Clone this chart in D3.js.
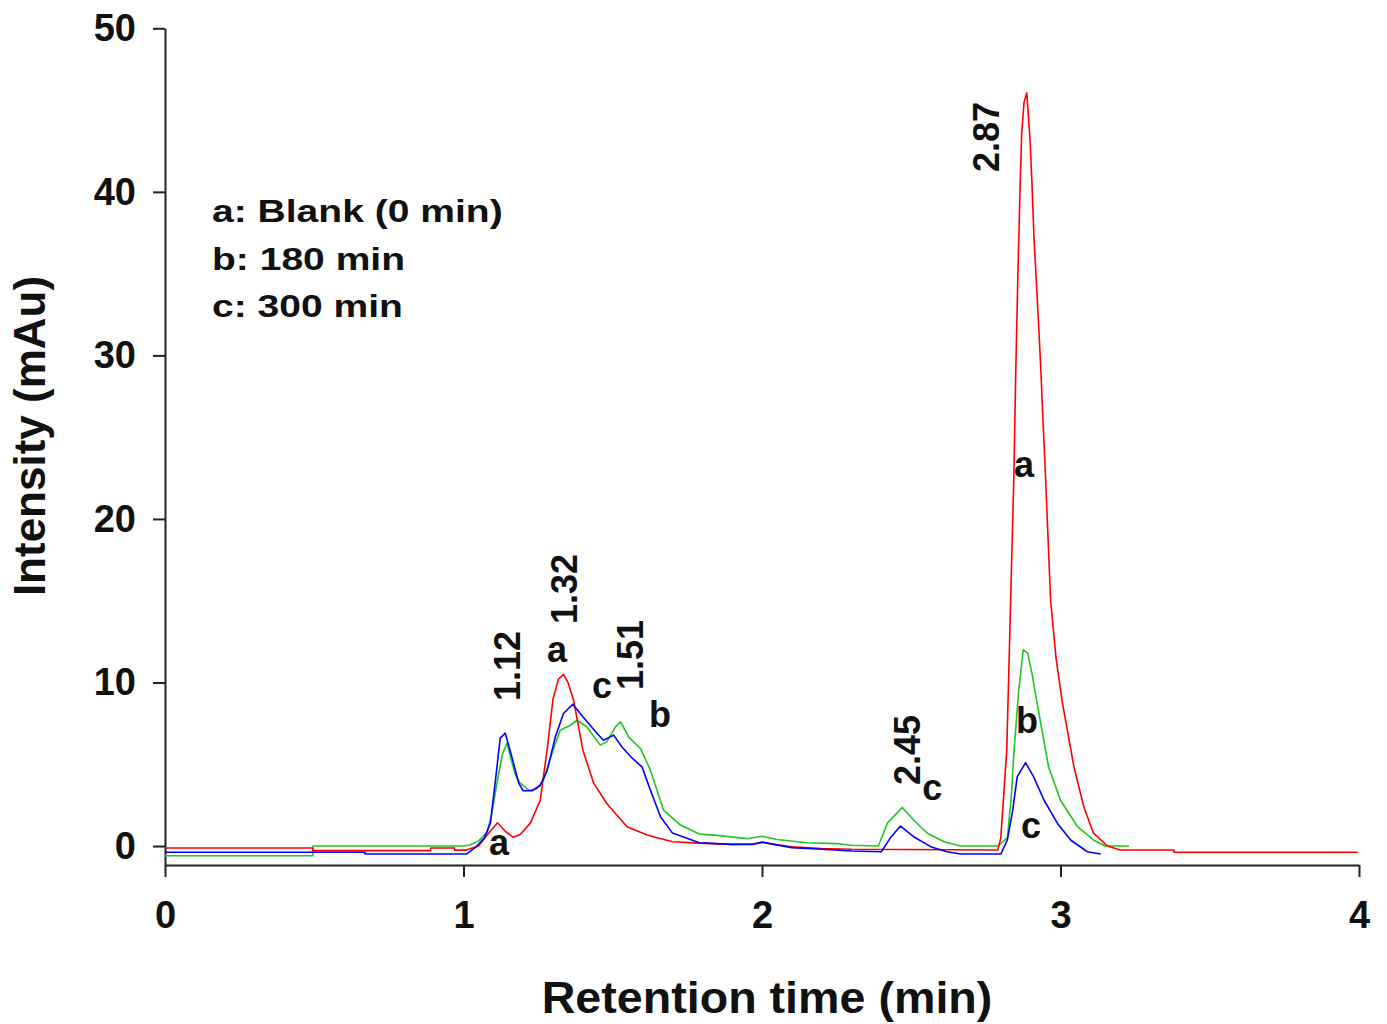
<!DOCTYPE html>
<html>
<head>
<meta charset="utf-8">
<script src="https://cdn.jsdelivr.net/npm/d3@7"></script>
<style>
  body { margin: 0; background: #fff; }
  svg text { font-family: "Liberation Sans", Arial, sans-serif; font-weight: bold; fill: #111; }
</style>
</head>
<body>
<script>
var width = 1387,
    height = 1024;

// retention time (min) and intensity (mAu) for each trace
var redT = [0, 0.495, 0.495, 0.89, 0.89, 0.97, 0.97, 1.01, 1.05, 1.085, 1.114, 1.14, 1.167, 1.19, 1.224, 1.257, 1.28, 1.30, 1.318, 1.335, 1.35, 1.369, 1.40, 1.436, 1.48, 1.548, 1.615, 1.70, 1.79, 1.9, 1.97, 2.0, 2.04, 2.1, 2.2, 2.3, 2.79, 2.80, 2.82, 2.833, 2.844, 2.850, 2.857, 2.864, 2.870, 2.878, 2.887, 2.898, 2.904, 2.911, 2.920, 2.928, 2.935, 2.941, 2.947, 2.967, 2.985, 3.005, 3.045, 3.078, 3.11, 3.157, 3.2, 3.38, 3.38, 3.996];
var redV = [-0.12, -0.12, -0.28, -0.28, -0.12, -0.12, -0.25, -0.25, 0.0, 0.8, 1.42, 0.9, 0.53, 0.7, 1.4, 2.8, 5.86, 9.0, 10.2, 10.5, 10.0, 8.9, 5.86, 3.85, 2.6, 1.18, 0.67, 0.26, 0.18, 0.1, 0.12, 0.22, 0.1, -0.05, -0.15, -0.2, -0.24, 0.5, 5.86, 15, 22.8, 28.9, 34.7, 39.9, 43.6, 45.5, 46.05, 43.2, 40.7, 37.3, 34.2, 31.4, 28.8, 26.1, 23.8, 15, 11.5, 8.9, 4.84, 2.4, 0.8, 0.0, -0.24, -0.24, -0.38, -0.38];

var greenT = [0, 0.495, 0.495, 1.0, 1.02, 1.05, 1.08, 1.095, 1.112, 1.13, 1.146, 1.16, 1.175, 1.19, 1.22, 1.245, 1.268, 1.30, 1.324, 1.358, 1.38, 1.414, 1.458, 1.48, 1.509, 1.526, 1.553, 1.593, 1.626, 1.67, 1.727, 1.79, 1.85, 1.95, 2.0, 2.05, 2.15, 2.25, 2.3, 2.39, 2.42, 2.47, 2.508, 2.554, 2.61, 2.665, 2.79, 2.822, 2.835, 2.845, 2.86, 2.875, 2.89, 2.905, 2.92, 2.96, 3.0, 3.057, 3.11, 3.15, 3.23];
var greenV = [-0.59, -0.59, 0.0, 0.0, 0.06, 0.3, 0.87, 2.0, 3.85, 5.6, 6.3, 5.25, 4.3, 3.85, 3.4, 3.5, 4.03, 5.86, 7.08, 7.39, 7.69, 7.28, 6.17, 6.37, 7.28, 7.6, 6.67, 5.96, 4.64, 2.2, 1.28, 0.73, 0.65, 0.45, 0.6, 0.4, 0.2, 0.15, 0.05, 0.0, 1.4, 2.36, 1.59, 0.78, 0.26, 0.0, 0.0, 0.5, 3, 6, 9.5, 12, 11.8, 10.5, 8.9, 4.84, 2.8, 1.18, 0.37, 0.0, 0.0];

var blueT = [0, 0.495, 0.67, 0.67, 1.01, 1.045, 1.07, 1.09, 1.106, 1.123, 1.14, 1.162, 1.185, 1.2, 1.23, 1.257, 1.28, 1.308, 1.335, 1.366, 1.40, 1.447, 1.469, 1.503, 1.531, 1.565, 1.598, 1.626, 1.66, 1.70, 1.79, 1.9, 1.97, 2.0, 2.04, 2.1, 2.2, 2.3, 2.40, 2.43, 2.464, 2.508, 2.565, 2.62, 2.665, 2.80, 2.822, 2.84, 2.855, 2.883, 2.91, 2.945, 2.99, 3.034, 3.09, 3.135];
var blueV = [-0.38, -0.38, -0.38, -0.49, -0.49, 0.0, 0.5, 1.4, 3.85, 6.6, 6.9, 5.45, 3.85, 3.38, 3.38, 3.7, 4.6, 6.7, 8.1, 8.67, 7.9, 6.9, 6.47, 6.78, 6.06, 5.37, 4.84, 3.42, 1.79, 0.79, 0.2, 0.1, 0.1, 0.25, 0.1, -0.1, -0.2, -0.3, -0.35, 0.5, 1.22, 0.57, -0.04, -0.35, -0.49, -0.49, 0.37, 2.2, 4.23, 5.1, 4.23, 2.8, 1.38, 0.37, -0.35, -0.49];

var xTicks = [0, 1, 2, 3, 4];
var yTicks = [0, 10, 20, 30, 40, 50];

var legendLines = ["a: Blank (0 min)", "b: 180 min", "c: 300 min"];

// peak retention times (rotated) and trace letters
var peakLabels = ["1.12", "1.32", "1.51", "2.45", "2.87"];
var peakLabelT = [1.189, 1.380, 1.601, 2.529, 2.794];
var peakLabelV = [8.87, 13.57, 9.54, 3.73, 41.21];

var letterLabels = ["a", "c", "b", "a", "c", "a", "b", "c"];
var letterLabelT = [1.313, 1.464, 1.658, 1.119, 2.570, 2.878, 2.888, 2.901];
var letterLabelV = [11.25, 9.05, 7.28, -0.55, 2.81, 22.56, 6.91, 0.49];

var svg = d3.select("body").append("svg")
            .attr("width", width)
            .attr("height", height);

var x = d3.scaleLinear().domain([0, 4]).range([165, 1359]);
var y = d3.scaleLinear().domain([-1.16, 50]).range([865, 28.3]);

// axes
var xAxis = svg.append("g")
  .attr("transform", "translate(0," + y(-1.16) + ")")
  .call(d3.axisBottom(x).tickValues(xTicks).tickSize(12).tickSizeOuter(0).tickPadding(24).tickFormat(d3.format("d")));

var yAxis = svg.append("g")
  .attr("transform", "translate(" + x(0) + ",0)")
  .call(d3.axisLeft(y).tickValues(yTicks).tickSize(12).tickSizeOuter(0).tickPadding(17).tickFormat(d3.format("d")));

svg.selectAll(".domain, .tick line")
  .attr("stroke", "#222")
  .attr("stroke-width", 2);

svg.selectAll(".tick text")
  .attr("font-size", 38)
  .attr("fill", "#111")
  .style("font-family", "'Liberation Sans', Arial, sans-serif")
  .style("font-weight", "bold");

// axis titles
svg.append("text")
  .attr("transform", "translate(767,1013)scale(1.06,1)")
  .attr("text-anchor", "middle")
  .attr("font-size", 44)
  .text("Retention time (min)");

svg.append("text")
  .attr("transform", "translate(45,436)rotate(-90)")
  .attr("text-anchor", "middle")
  .attr("font-size", 44)
  .text("Intensity (mAu)");

// traces
var traces = [
  { t: greenT, v: greenV, color: "#1ec81e" },
  { t: redT, v: redV, color: "#ff0000" },
  { t: blueT, v: blueV, color: "#0000ff" }
];

var line = d3.line()
  .x(function(d) { return x(d[0]); })
  .y(function(d) { return y(d[1]); });

svg.append("g").selectAll("path")
  .data(traces)
  .enter()
  .append("path")
  .attr("fill", "none")
  .attr("stroke", function(d) { return d.color; })
  .attr("stroke-width", 1.6)
  .attr("stroke-linejoin", "round")
  .attr("d", function(d) {
    return line(d.t.map(function(t, i) { return [t, d.v[i]]; }));
  });

// legend
svg.append("g").selectAll("text")
  .data(legendLines)
  .enter()
  .append("text")
  .attr("transform", function(d, i) { return "translate(212," + (222 + i * 47.5) + ")scale(1.22,1)"; })
  .attr("font-size", 32)
  .text(function(d) { return d; });

// peak annotations
svg.append("g").selectAll("text")
  .data(peakLabels)
  .enter()
  .append("text")
  .attr("transform", function(d, i) {
    return "translate(" + x(peakLabelT[i]) + "," + y(peakLabelV[i]) + ")rotate(-90)";
  })
  .attr("font-size", 36)
  .text(function(d) { return d; });

svg.append("g").selectAll("text")
  .data(letterLabels)
  .enter()
  .append("text")
  .attr("x", function(d, i) { return x(letterLabelT[i]); })
  .attr("y", function(d, i) { return y(letterLabelV[i]); })
  .attr("text-anchor", "middle")
  .attr("font-size", 36)
  .text(function(d) { return d; });
</script>
</body>
</html>
